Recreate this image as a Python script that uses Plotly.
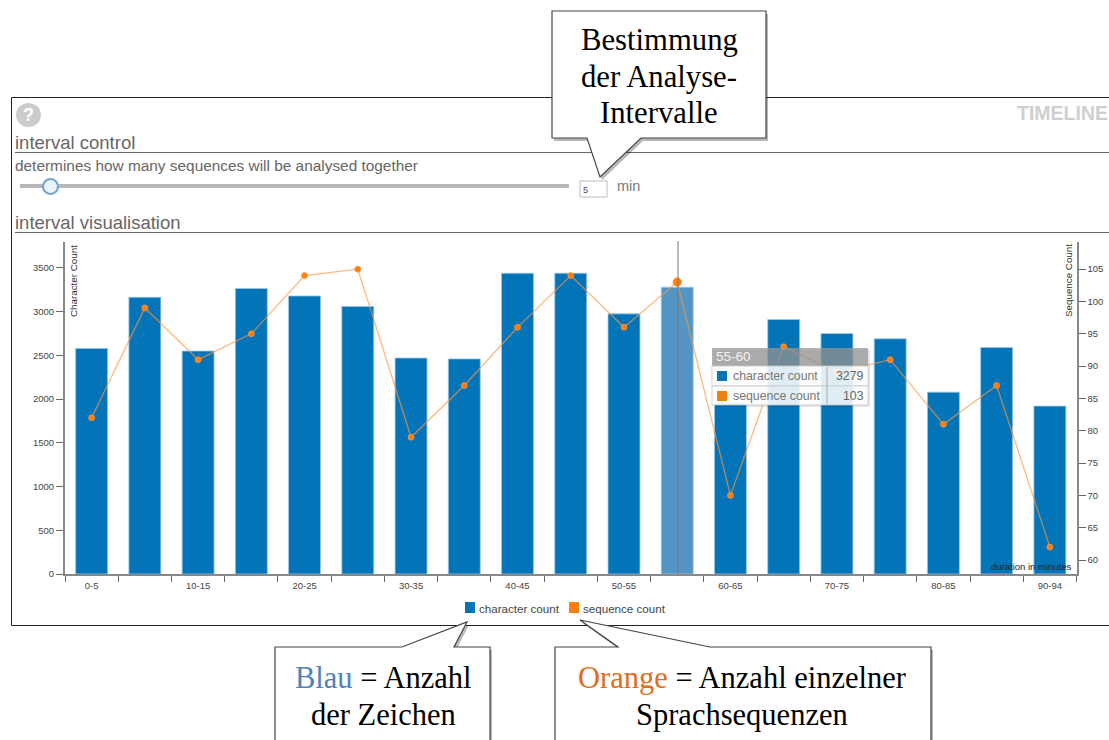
import plotly.graph_objects as go

W, H = 1109, 740

# ---- data ----
intervals = ["0-5", "5-10", "10-15", "15-20", "20-25", "25-30", "30-35", "35-40", "40-45", "45-50",
             "50-55", "55-60", "60-65", "65-70", "70-75", "75-80", "80-85", "85-90", "90-94"]
character_count = [2580, 3165, 2550, 3265, 3180, 3060, 2470, 2460, 3440, 3440,
                   2975, 3279, 1950, 2910, 2750, 2690, 2080, 2590, 1920]
sequence_count = [82, 99, 91, 95, 104, 105, 79, 87, 96, 104,
                  96, 103, 70, 93, 89, 91, 81, 87, 62]
highlight = "55-60"
left_ticks = [0, 500, 1000, 1500, 2000, 2500, 3000, 3500]
right_ticks = [60, 65, 70, 75, 80, 85, 90, 95, 100, 105]
tick_text = [c if i % 2 == 0 else " " for i, c in enumerate(intervals)]

BLUE, BLUE_L, ORANGE = "#0474b8", "#5396c6", "#ff7f0e"
SANS, SERIF = "Liberation Sans", "Liberation Serif"


def px(x):
    return x / W


def py(y):
    return 1 - y / H


shapes, notes = [], []


def line(x0, y0, x1, y1, color="#555", width=1):
    shapes.append(dict(type="line", xref="paper", yref="paper", x0=px(x0), x1=px(x1), y0=py(y0), y1=py(y1),
                       line=dict(color=color, width=width), layer="above"))


def rect(x0, y0, x1, y1, fill, border=None, width=1):
    shapes.append(dict(type="rect", xref="paper", yref="paper", x0=px(x0), x1=px(x1), y0=py(y0), y1=py(y1),
                       fillcolor=fill, line=dict(color=border or "rgba(0,0,0,0)", width=width if border else 0),
                       layer="above"))


def poly(points, fill, border=None, width=1):
    d = "M " + " L ".join(f"{px(a):.5f},{py(b):.5f}" for a, b in points) + " Z"
    shapes.append(dict(type="path", xref="paper", yref="paper", path=d, fillcolor=fill,
                       line=dict(color=border or "rgba(0,0,0,0)", width=width if border else 0), layer="above"))


def text(x, y, s, size=12, color="#666", font=SANS, anchor="left", angle=0):
    notes.append(dict(xref="paper", yref="paper", x=px(x), y=py(y), text=s, showarrow=False, xanchor=anchor,
                      yanchor="middle", textangle=angle, font=dict(family=font, size=size, color=color),
                      borderpad=0, borderwidth=0))


def callout(points):
    poly([(a + 2, b + 3) for a, b in points], "rgba(0,0,0,0.28)")
    poly(points, "#ffffff", "#444", 1.2)


# ---- panel frame and controls ----
line(11.5, 97.5, 1112, 97.5, "#222", 1)
line(11.5, 97.5, 11.5, 625.5, "#222", 1)
line(11.5, 625.5, 1112, 625.5, "#222", 1)
line(15, 152.5, 1112, 152.5, "#666", 1)
line(15, 232.5, 1112, 232.5, "#666", 1)

shapes.append(dict(type="circle", xref="paper", yref="paper", x0=px(16), x1=px(41), y0=py(103), y1=py(127),
                   fillcolor="#cccccc", line=dict(width=0), layer="above"))
text(28.5, 115, "<b>?</b>", 18, "#ffffff", anchor="center")
text(1108, 113, "<b>TIMELINE</b>", 19.5, "#cfcfcf", anchor="right")
text(15, 142, "interval control", 18.5, "#666")
text(15, 165, "determines how many sequences will be analysed together", 15.4, "#666")
text(15, 222, "interval visualisation", 18.5, "#666")

rect(20, 184, 569, 188, "#b8b8b8")
shapes.append(dict(type="circle", xref="paper", yref="paper", x0=px(43), x1=px(58), y0=py(179), y1=py(194),
                   fillcolor="#eef3f8", line=dict(color="#6fa3d0", width=2), layer="above"))
rect(580, 181, 607, 197, "#ffffff", "#bbbbbb")
text(583, 190, "5", 9, "#446")
text(617, 186, "min", 14.5, "#777")

# ---- hover cursor ----
line(678, 241, 678, 574, "#777", 1)

# ---- axis captions ----
text(73, 281, "Character Count", 9.8, "#333", anchor="center", angle=-90)
text(1068, 281, "Sequence Count", 9.8, "#333", anchor="center", angle=-90)
text(1072, 566, "duration in minutes", 9.5, "#223", anchor="right")

# ---- tooltip ----
rect(714, 350, 870, 407, "rgba(0,0,0,0.10)")
rect(712, 348, 868, 366, "rgba(150,150,150,0.75)")
rect(712, 366, 868, 386, "rgba(255,255,255,0.88)", "rgba(200,200,200,0.8)")
rect(712, 386, 868, 405, "rgba(255,255,255,0.88)", "rgba(200,200,200,0.8)")
line(827, 367, 827, 404, "#999", 0.8)
text(716, 356, "55-60", 13.5, "#f2f2f2")
rect(717, 371, 727, 381, "#0a74b8")
rect(717, 391, 727, 401, "#ee8011")
text(733, 376, "character count", 12.3, "#777")
text(733, 396, "sequence count", 12.3, "#777")
text(864, 376, "3279", 12.3, "#666", anchor="right")
text(864, 396, "103", 12.3, "#666", anchor="right")

# ---- legend ----
rect(465, 602, 475, 613, BLUE)
text(479, 608, "character count", 11.6, "#444")
rect(569, 602, 579, 613, ORANGE)
text(583, 608, "sequence count", 11.6, "#444")

# ---- callouts ----
callout([(552, 11), (766, 11), (766, 138), (641, 138), (600, 177), (587, 138), (552, 138)])
for yy, s in zip([40, 77, 113], ["Bestimmung", "der Analyse-", "Intervalle"]):
    text(659, yy, s, 30.7, "#000", SERIF, "center")

callout([(275, 647), (402, 647), (467, 622), (454, 647), (490, 647), (490, 750), (275, 750)])
text(383, 678, '<span style="color:#4f81bd">Blau</span> = Anzahl', 30.5, "#000", SERIF, "center")
text(383, 715, "der Zeichen", 30.5, "#000", SERIF, "center")

callout([(555, 647), (618, 647), (580, 620), (710, 647), (931, 647), (931, 750), (555, 750)])
text(742, 678, '<span style="color:#e36c1a">Orange</span> = Anzahl einzelner', 30.5, "#000", SERIF, "center")
text(742, 715, "Sprachsequenzen", 30.5, "#000", SERIF, "center")

# ---- traces ----
fig = go.Figure()
fig.add_bar(x=intervals, y=character_count, name="character count", width=0.6,
            marker=dict(color=[BLUE_L if c == highlight else BLUE for c in intervals],
                        line=dict(color="#9cc6e4", width=0.8)))
fig.add_scatter(x=intervals, y=sequence_count, name="sequence count", yaxis="y2", mode="lines+markers",
                line=dict(color="rgba(255,150,60,0.68)", width=1.3),
                marker=dict(color=[ORANGE] * len(intervals), opacity=1,
                            size=[8.5 if c == highlight else 6 for c in intervals]))

axis_font = dict(family=SANS, size=9.5, color="#444")
fig.update_layout(
    width=W, height=H, autosize=False, showlegend=False,
    margin=dict(l=0, r=0, t=0, b=0, autoexpand=False),
    paper_bgcolor="#ffffff", plot_bgcolor="#ffffff", shapes=shapes, annotations=notes,
    xaxis=dict(domain=[65 / W, 1076.5 / W], type="category", categoryorder="array", categoryarray=intervals,
               range=[-0.5, len(intervals) - 0.5],
               tickmode="array", tickvals=intervals, ticktext=tick_text, tickson="boundaries", ticks="outside",
               ticklen=6, tickcolor="#666", showline=True, linecolor="#888", linewidth=1.5, showgrid=False,
               tickfont=axis_font, tickangle=0, zeroline=False, ticklabelstandoff=2),
    yaxis=dict(domain=[py(574), py(242)], range=[0, 3797], tickvals=left_ticks, ticks="outside", ticklen=7,
               tickcolor="#666", showline=True, linecolor="#888", linewidth=2, showgrid=False, zeroline=False,
               tickfont=axis_font),
    yaxis2=dict(overlaying="y", side="right", anchor="x", range=[57.84, 109.2], tickvals=right_ticks,
                ticks="outside", ticklen=7, tickcolor="#666", showline=True, linecolor="#888", linewidth=2,
                showgrid=False, zeroline=False, tickfont=axis_font),
)
fig.write_html("out.html", config=dict(displayModeBar=False),
               post_script="document.body.style.margin='0';document.documentElement.style.overflow='hidden';")
